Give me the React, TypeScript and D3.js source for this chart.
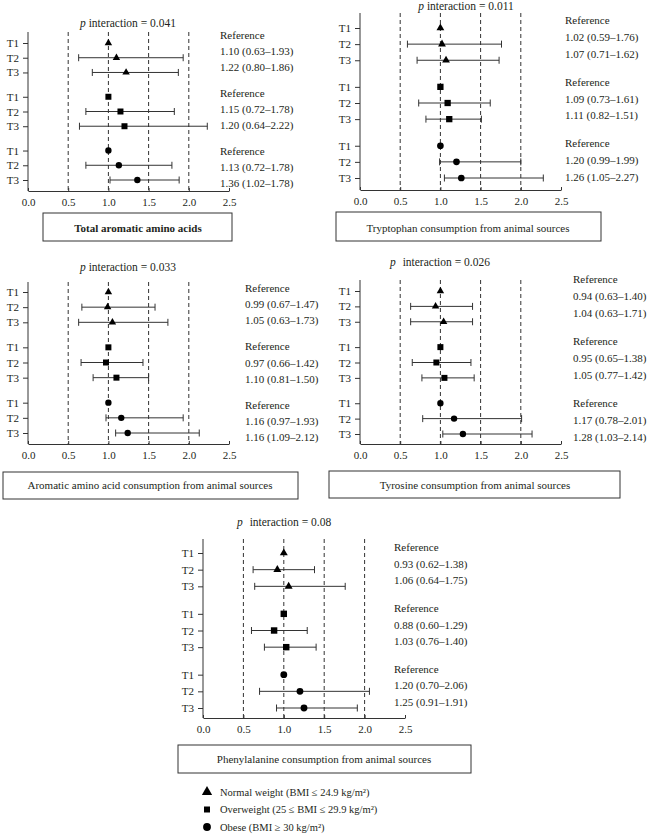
import React, { useEffect, useRef } from "react";
import * as d3 from "d3";

const tertiles = ["T1", "T2", "T3"];
const xTicks = [0, 0.5, 1, 1.5, 2, 2.5];
const dashLines = [0.5, 1, 1.5, 2];
const bmiGroups = [
  "Normal weight (BMI ≤ 24.9 kg/m²)",
  "Overweight (25 ≤ BMI ≤ 29.9 kg/m²)",
  "Obese (BMI ≥ 30 kg/m²)",
];
const bmiShapes = [d3.symbolTriangle, d3.symbolSquare, d3.symbolCircle];
const shapeSize = [24, 36, 32];

// each row: [T1, T2, T3] for normal / overweight / obese
const totalEst = [[1, 1.10, 1.22], [1, 1.15, 1.20], [1, 1.13, 1.36]];
const totalLo = [[null, 0.63, 0.80], [null, 0.72, 0.64], [null, 0.72, 1.02]];
const totalHi = [[null, 1.93, 1.87], [null, 1.82, 2.23], [null, 1.79, 1.88]];
const totalLabels = [
  ["Reference", "1.10 (0.63–1.93)", "1.22 (0.80–1.86)"],
  ["Reference", "1.15 (0.72–1.78)", "1.20 (0.64–2.22)"],
  ["Reference", "1.13 (0.72–1.78)", "1.36 (1.02–1.78)"],
];

const trpEst = [[1, 1.02, 1.07], [1, 1.09, 1.11], [1, 1.20, 1.26]];
const trpLo = [[null, 0.59, 0.71], [null, 0.73, 0.82], [null, 0.99, 1.05]];
const trpHi = [[null, 1.76, 1.73], [null, 1.62, 1.51], [null, 2.00, 2.28]];
const trpLabels = [
  ["Reference", "1.02 (0.59–1.76)", "1.07 (0.71–1.62)"],
  ["Reference", "1.09 (0.73–1.61)", "1.11 (0.82–1.51)"],
  ["Reference", "1.20 (0.99–1.99)", "1.26 (1.05–2.27)"],
];

const aroEst = [[1, 0.99, 1.05], [1, 0.97, 1.10], [1, 1.16, 1.24]];
const aroLo = [[null, 0.67, 0.63], [null, 0.66, 0.81], [null, 0.97, 1.09]];
const aroHi = [[null, 1.58, 1.74], [null, 1.43, 1.50], [null, 1.93, 2.13]];
const aroLabels = [
  ["Reference", "0.99 (0.67–1.47)", "1.05 (0.63–1.73)"],
  ["Reference", "0.97 (0.66–1.42)", "1.10 (0.81–1.50)"],
  ["Reference", "1.16 (0.97–1.93)", "1.16 (1.09–2.12)"],
];

const tyrEst = [[1, 0.94, 1.04], [1, 0.95, 1.05], [1, 1.17, 1.28]];
const tyrLo = [[null, 0.63, 0.63], [null, 0.65, 0.77], [null, 0.78, 1.03]];
const tyrHi = [[null, 1.40, 1.40], [null, 1.38, 1.42], [null, 2.01, 2.14]];
const tyrLabels = [
  ["Reference", "0.94 (0.63–1.40)", "1.04 (0.63–1.71)"],
  ["Reference", "0.95 (0.65–1.38)", "1.05 (0.77–1.42)"],
  ["Reference", "1.17 (0.78–2.01)", "1.28 (1.03–2.14)"],
];

const pheEst = [[1, 0.92, 1.06], [1, 0.88, 1.03], [1, 1.20, 1.25]];
const pheLo = [[null, 0.62, 0.64], [null, 0.60, 0.76], [null, 0.70, 0.91]];
const pheHi = [[null, 1.38, 1.76], [null, 1.29, 1.40], [null, 2.06, 1.91]];
const pheLabels = [
  ["Reference", "0.93 (0.62–1.38)", "1.06 (0.64–1.75)"],
  ["Reference", "0.88 (0.60–1.29)", "1.03 (0.76–1.40)"],
  ["Reference", "1.20 (0.70–2.06)", "1.25 (0.91–1.91)"],
];

const pValues = ["0.041", "0.011", "0.033", "0.026", "0.08"];
const captions = [
  "Total aromatic amino acids",
  "Tryptophan consumption from animal sources",
  "Aromatic amino acid consumption from animal sources",
  "Tyrosine consumption from animal sources",
  "Phenylalanine consumption from animal sources",
];

const panels = [
  { est: totalEst, lo: totalLo, hi: totalHi, labels: totalLabels, x0: 28, x1: 229, top: 32, axisY: 191, r0: 43, r1: 180, lx: 220, l0: 35, l1: 183, tx: 128, ty: 27, anchor: "middle", gap: "", box: [43, 213, 189, 28], cx: 138, cy: 228, bold: true, ms: 1 },
  { est: trpEst, lo: trpLo, hi: trpHi, labels: trpLabels, x0: 360, x1: 561, top: 13, axisY: 190, r0: 28, r1: 178, lx: 565, l0: 20, l1: 177, tx: 466, ty: 10, anchor: "middle", gap: "", box: [336, 212, 265, 29], cx: 468, cy: 228, bold: false, ms: 1.1 },
  { est: aroEst, lo: aroLo, hi: aroHi, labels: aroLabels, x0: 28, x1: 229, top: 282, axisY: 444, r0: 292, r1: 433, lx: 245, l0: 288, l1: 437, tx: 128, ty: 271, anchor: "middle", gap: "", box: [3, 472, 295, 27], cx: 150, cy: 485, bold: false, ms: 1 },
  { est: tyrEst, lo: tyrLo, hi: tyrHi, labels: tyrLabels, x0: 360, x1: 561, top: 280, axisY: 444, r0: 291, r1: 434, lx: 573, l0: 279, l1: 437, tx: 390, ty: 266, anchor: "start", gap: "4", box: [329, 471, 291, 27], cx: 475, cy: 485, bold: false, ms: 1 },
  { est: pheEst, lo: pheLo, hi: pheHi, labels: pheLabels, x0: 203, x1: 405, top: 539, axisY: 718, r0: 553, r1: 708, lx: 394, l0: 547, l1: 702, tx: 237, ty: 526, anchor: "start", gap: "4", box: [178, 745, 293, 28], cx: 324, cy: 759, bold: false, ms: 1.15 },
];

const FONT = "'Liberation Serif', 'DejaVu Serif', serif";
const INK = "#231f20";
const slot = (g: number, t: number) => g * 3.65 + t;

export default function App() {
  const ref = useRef<SVGSVGElement>(null);

  useEffect(() => {
    const svg = d3.select(ref.current);
    svg.selectAll("*").remove();

    panels.forEach((p, pi) => {
      const g = svg.append("g").attr("font-family", FONT).attr("fill", INK);
      const x = d3.scaleLinear().domain([0, 2.5]).range([p.x0, p.x1]);
      const y = d3.scaleLinear().domain([0, slot(2, 2)]).range([p.r0, p.r1]);
      const ly = d3.scaleLinear().domain([0, slot(2, 2)]).range([p.l0, p.l1]);

      // title
      const title = g.append("text")
        .attr("x", p.tx).attr("y", p.ty)
        .attr("text-anchor", p.anchor)
        .attr("font-size", 11.5);
      title.append("tspan").attr("font-style", "italic").text("p");
      title.append("tspan").attr("dx", p.gap ? 4 : 0).text(" interaction = " + pValues[pi]);

      // dashed reference lines
      g.selectAll(".dash").data(dashLines).enter().append("line")
        .attr("x1", d => x(d)).attr("x2", d => x(d))
        .attr("y1", p.top).attr("y2", p.axisY)
        .attr("stroke", "#333").attr("stroke-width", 1)
        .attr("stroke-dasharray", "4,3");

      // x axis
      const xa = g.append("g").attr("transform", `translate(0,${p.axisY})`)
        .call(d3.axisBottom(x).tickValues(xTicks).tickSizeInner(-3).tickSizeOuter(0)
          .tickPadding(7).tickFormat(d3.format(".1f")));
      xa.selectAll("path,line").attr("stroke", "#333");
      xa.selectAll("text").attr("font-family", FONT).attr("font-size", 11).attr("fill", INK);

      // y axis
      const slots: number[] = [];
      for (let a = 0; a < 3; a++) for (let t = 0; t < 3; t++) slots.push(slot(a, t));
      const ya = g.append("g").attr("transform", `translate(${p.x0},0)`)
        .call(d3.axisLeft(y).tickValues(slots).tickSize(5).tickPadding(4)
          .tickFormat((_d, i) => tertiles[i % 3]));
      ya.select(".domain").remove();
      ya.selectAll("line").attr("stroke", "#333");
      ya.selectAll("text").attr("font-family", FONT).attr("font-size", 11).attr("fill", INK);
      g.append("line").attr("x1", p.x0).attr("x2", p.x0)
        .attr("y1", p.top).attr("y2", p.axisY).attr("stroke", "#333");

      // error bars and markers
      p.est.forEach((row, gi) => {
        row.forEach((v, ti) => {
          const cy = y(slot(gi, ti));
          const lo = p.lo[gi][ti];
          const hi = p.hi[gi][ti];
          if (lo != null && hi != null) {
            g.append("line").attr("x1", x(lo)).attr("x2", x(hi))
              .attr("y1", cy).attr("y2", cy).attr("stroke", "#333");
            [lo, hi].forEach(c => {
              g.append("line").attr("x1", x(c)).attr("x2", x(c))
                .attr("y1", cy - 3.5).attr("y2", cy + 3.5).attr("stroke", "#333");
            });
          }
          g.append("path")
            .attr("d", d3.symbol().type(bmiShapes[gi]).size(shapeSize[gi] * p.ms)())
            .attr("transform", `translate(${x(v)},${cy})`)
            .attr("fill", "#000");
          g.append("text").attr("x", p.lx).attr("y", ly(slot(gi, ti)))
            .attr("dominant-baseline", "central")
            .attr("font-size", 11)
            .text(p.labels[gi][ti]);
        });
      });

      // caption box
      const [bx, by, bw, bh] = p.box;
      g.append("rect").attr("x", bx).attr("y", by).attr("width", bw).attr("height", bh)
        .attr("fill", "none").attr("stroke", "#333").attr("stroke-width", 1);
      g.append("text").attr("x", p.cx).attr("y", p.cy)
        .attr("text-anchor", "middle").attr("dominant-baseline", "central")
        .attr("font-size", 11).attr("font-weight", p.bold ? "bold" : "normal")
        .text(captions[pi]);
    });

    // legend
    const legY = d3.scalePoint<number>().domain([0, 1, 2]).range([792, 827]);
    const leg = svg.append("g").attr("font-family", FONT).attr("fill", INK);
    bmiGroups.forEach((label, i) => {
      leg.append("path")
        .attr("d", d3.symbol().type(bmiShapes[i]).size([46, 36, 48][i])())
        .attr("transform", `translate(207,${legY(i)})`)
        .attr("fill", "#000");
      leg.append("text").attr("x", 220).attr("y", legY(i))
        .attr("dominant-baseline", "central").attr("font-size", 10.5)
        .text(label);
    });
  }, []);

  return (
    <svg ref={ref} width={647} height={836}
      style={{ position: "absolute", left: 0, top: 0, background: "#fff" }} />
  );
}
